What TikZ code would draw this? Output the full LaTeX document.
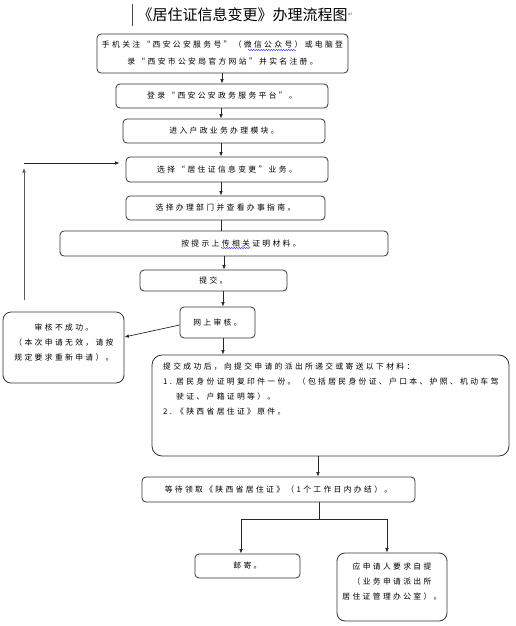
\documentclass[tikz,border=0pt]{standalone}
\usepackage{fontspec}
\newfontfamily\cjk[LetterSpace=30]{Noto Sans CJK SC}
\newfontfamily\cjktitle{Noto Sans CJK SC}
\newfontfamily\dejavu{DejaVu Sans}
\usetikzlibrary{arrows.meta,decorations.pathmorphing}
\begin{document}
\begin{tikzpicture}[x=1pt,y=-1pt,
  box/.style={draw=black!80, line width=0.8pt, rounded corners=4pt, inner sep=0pt,
    font=\cjk\fontsize{7.8}{15}\selectfont, align=center},
  txt/.style={inner sep=0pt, font=\cjk\fontsize{7.8}{15}\selectfont},
  arr/.style={-{Latex[length=4.5pt,width=3.6pt]}, line width=0.7pt, draw=black!85},
  ln/.style={line width=0.7pt, draw=black!85},
  wavy/.style={draw=blue, line width=0.4pt, decorate,
    decoration={snake, amplitude=0.5pt, segment length=2.5pt}}]
\useasboundingbox (0,0) rectangle (515,626);
% title
\node[inner sep=0pt, font=\cjktitle\fontsize{15}{15}\selectfont] (title) at (242.5,15) {《居住证信息变更》办理流程图};
\node[inner sep=0pt, font=\dejavu\fontsize{6}{6}\selectfont, text=black!60, anchor=west] (mark) at (title.east) {↵};
\draw[line width=0.6pt, black!70] (132,4) -- (132,26);
% boxes
\node[box, minimum width=251pt, minimum height=39pt] (b1) at (222.5,53.5)
  {手机关注“西安公安服务号”（微信公众号）或电脑登\\[2pt]录“西安市公安局官方网站”并实名注册。};
\node[box, minimum width=212pt, minimum height=24pt] (b2) at (222,96) {登录“西安公安政务服务平台”。};
\node[box, minimum width=202pt, minimum height=24pt] (b3) at (224,131) {进入户政业务办理模块。};
\node[box, minimum width=202pt, minimum height=25pt] (b4) at (227,169.5) {选择“居住证信息变更”业务。};
\node[box, minimum width=199pt, minimum height=24pt] (b5) at (225.5,208) {选择办理部门并查看办事指南。};
\node[box, minimum width=328pt, minimum height=25pt] (b6) at (224,243.5) {\hspace*{34pt}按提示上传相关证明材料。};
\node[box, minimum width=147pt, minimum height=21pt] (b7) at (213.5,280.5) {提交。};
\node[box, minimum width=75pt, minimum height=31pt] (b8) at (217.5,322.5) {网上审核。};
\node[box, rounded corners=8pt, minimum width=121pt, minimum height=71pt] (fail) at (63.5,347.5) {};
\node[txt, align=center] (failt) at (64,343) {审核不成功。\\（本次申请无效，请按\\规定要求重新申请）。};
\node[box, rounded corners=10pt, minimum width=357pt, minimum height=101pt] (b9) at (330.5,405.5) {};
\node[txt, align=left, anchor=north west] (b9t) at (163,363)
  {提交成功后，向提交申请的派出所递交或寄送以下材料：\\
   \makebox[13pt][l]{1.}居民身份证明复印件一份。（包括居民身份证、户口本、护照、机动车驾\\
   \hspace*{13pt}驶证、户籍证明等）。\\
   \makebox[13pt][l]{2.}《陕西省居住证》原件。};
\node[box, minimum width=273pt, minimum height=25pt] (b10) at (278.5,489.5) {等待领取《陕西省居住证》（1个工作日内办结）。};
\node[box, minimum width=105pt, minimum height=24pt] (b11) at (247.5,566) {邮寄。};
\node[box, rounded corners=8pt, minimum width=110pt, minimum height=68pt] (b12) at (392,587) {};
\node[txt, align=center] (b12t) at (392,582) {应申请人要求自提\\（业务申请派出所\\居住证管理办公室）。};
% x positions of connectors
\coordinate (x221) at (221,0);
\coordinate (x222) at (222,0);
\coordinate (x223) at (223,0);
\coordinate (x224) at (224,0);
\coordinate (x318) at (318,0);
\coordinate (xl) at (241,0);
\coordinate (xr) at (387,0);
\coordinate (j) at (319,519);
% connectors
\draw[arr] (b1.south -| x222) -- (b2.north -| x222);
\draw[arr] (b2.south -| x221) -- (b3.north -| x221);
\draw[arr] (b3.south -| x221) -- (b4.north -| x221);
\draw[arr] (b4.south -| x221) -- (b5.north -| x221);
\draw[ln] (b5.south -| x221) -- (b6.north -| x221);
\draw[arr] (b6.south -| x224) -- (b7.north -| x224);
\draw[arr] (b7.south -| x223) -- (b8.north -| x223);
\draw[arr] (b8.south -| x223) -- (b9.north -| x223);
\draw[arr] (b8.west) ++(0,2.5) coordinate (s8) (s8) -- ([yshift=10.5pt]fail.east);
\draw[arr] (b9.south -| x318) -- (b10.north -| x318);
\draw[ln] (b10.south -| j) -- (j);
\draw[arr] (j) -| (b11.north -| xl);
\draw[arr] (j) -| (b12.north -| xr);
% feedback
\coordinate (fb1) at (24,300);
\coordinate (fb2) at (24,168);
\coordinate (fb3) at (24,163);
\draw[arr, draw=black!65] (fb1) -- (fb2);
\draw[arr] (fb3) -- ([xshift=-6pt]b4.west |- fb3);
% spell-check underlines
\draw[wavy] (248,50) -- (296,50);
\draw[wavy] (221,248) -- (251,248);
\end{tikzpicture}
\end{document}
